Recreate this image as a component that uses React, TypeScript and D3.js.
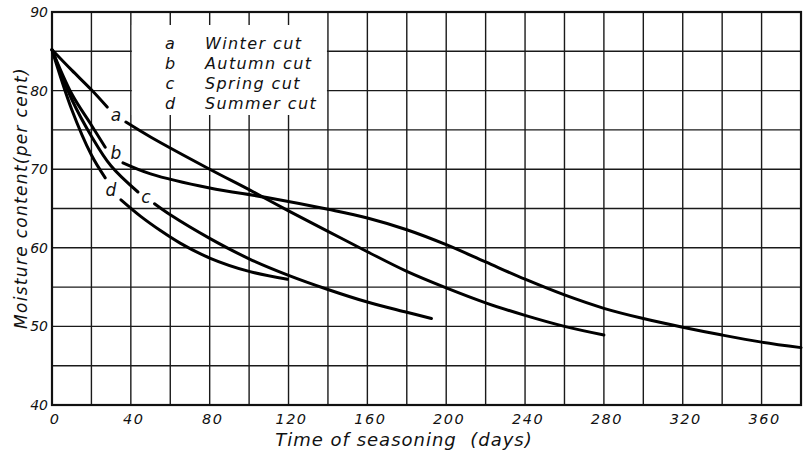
import React, { useEffect, useRef } from 'react';
import * as d3 from 'd3';

// curve keys and legend names
const keys = ['a', 'b', 'c', 'd'];
const names = ['Winter cut', 'Autumn cut', 'Spring cut', 'Summer cut'];

// [days, moisture %]; NaN marks the gap left for the letter label
const winter: [number, number][] = [
  [0, 85.2], [10, 82.6], [20, 80.1], [28, 77.9], [32, NaN],
  [37.5, 76.0], [50, 74.1], [80, 70.0], [100, 67.4], [120, 64.7], [140, 62.1],
  [160, 59.5], [180, 57.0], [200, 54.9], [220, 53.0], [240, 51.4], [260, 50.0], [280, 48.9],
];
const autumn: [number, number][] = [
  [0, 85.2], [10, 79.6], [20, 75.6], [27, 72.8], [31, NaN],
  [36, 70.8], [50, 69.4], [80, 67.6], [109, 66.4], [140, 64.9], [160, 63.8],
  [180, 62.3], [200, 60.4], [220, 58.2], [240, 56.0], [260, 54.0], [280, 52.3], [300, 51.0],
  [320, 49.9], [340, 48.9], [360, 48.0], [380, 47.3],
];
const spring: [number, number][] = [
  [0, 85.2], [10, 78.9], [20, 74.2], [30, 70.4], [43.6, 67.1], [48, NaN],
  [52, 65.6], [60, 64.2], [80, 61.2], [100, 58.6], [120, 56.5], [140, 54.7],
  [160, 53.1], [180, 51.8], [192.5, 51.0],
];
const summer: [number, number][] = [
  [0, 85.2], [10, 77.6], [20, 71.8], [27, 68.9], [31, NaN],
  [35, 66.1], [45, 64.0], [55, 62.2], [65, 60.6], [80, 58.7], [100, 57.0], [119.5, 56.0],
];
const series = [winter, autumn, spring, summer];

// where the letters sit on the curves
const labelDays = [32.4, 32.4, 47.6, 29.9];
const labelValues = [76.9, 72.1, 66.5, 67.4];

const xTicks = [0, 40, 80, 120, 160, 200, 240, 280, 320, 360];
const yTicks = [40, 50, 60, 70, 80, 90];

export default function App() {
  const ref = useRef<SVGSVGElement>(null);

  useEffect(() => {
    const width = 803;
    const height = 453;
    const font = '"DejaVu Sans", sans-serif';

    const x = d3.scaleLinear().domain([0, 380]).range([52, 801]);
    const y = d3.scaleLinear().domain([40, 90]).range([405, 12]);

    const svg = d3.select(ref.current)
      .attr('width', width)
      .attr('height', height)
      .attr('viewBox', [0, 0, width, height].join(' '));

    svg.selectAll('*').remove();
    svg.append('rect').attr('width', width).attr('height', height).attr('fill', '#fff');

    // grid
    const grid = svg.append('g').attr('stroke', '#1a1a1a').attr('stroke-width', 1.4);
    grid.selectAll('line.v')
      .data(d3.range(0, 381, 20))
      .join('line')
        .attr('x1', d => x(d)).attr('x2', d => x(d))
        .attr('y1', y(90)).attr('y2', y(40));
    grid.selectAll('line.h')
      .data(d3.range(40, 91, 5))
      .join('line')
        .attr('x1', x(0)).attr('x2', x(380))
        .attr('y1', d => y(d)).attr('y2', d => y(d));

    // white patch behind the key
    svg.append('rect')
      .attr('x', x(40) + 1).attr('y', 25)
      .attr('width', x(140) - x(40) - 2).attr('height', 90)
      .attr('fill', '#fff');

    // frame
    svg.append('rect')
      .attr('x', x(0)).attr('y', y(90))
      .attr('width', x(380) - x(0)).attr('height', y(40) - y(90))
      .attr('fill', 'none').attr('stroke', '#111').attr('stroke-width', 2.2);

    // curves
    const line = d3.line<[number, number]>()
      .defined(d => !isNaN(d[1]))
      .x(d => x(d[0]))
      .y(d => y(d[1]))
      .curve(d3.curveCatmullRom.alpha(0.5));

    svg.append('g')
      .selectAll('path')
      .data(series)
      .join('path')
        .attr('d', d => line(d))
        .attr('fill', 'none')
        .attr('stroke', '#000')
        .attr('stroke-width', 3)
        .attr('stroke-linecap', 'round');

    const text = svg.append('g')
      .attr('font-family', font)
      .attr('font-style', 'italic')
      .attr('fill', '#111');

    // letters on the curves
    text.selectAll('text.lab')
      .data(keys)
      .join('text')
        .attr('x', (d, i) => x(labelDays[i]))
        .attr('y', (d, i) => y(labelValues[i]))
        .attr('text-anchor', 'middle')
        .attr('dominant-baseline', 'central')
        .attr('font-size', 17)
        .text(d => d);

    // key
    const key = text.append('g').attr('font-size', 16);
    key.selectAll('text.k')
      .data(keys)
      .join('text')
        .attr('x', 170)
        .attr('y', (d, i) => 49 + i * 20)
        .attr('text-anchor', 'middle')
        .text(d => d);
    key.selectAll('text.n')
      .data(names)
      .join('text')
        .attr('x', 205)
        .attr('y', (d, i) => 49 + i * 20)
        .attr('letter-spacing', 1.4)
        .text(d => d);

    // tick labels
    text.selectAll('text.xt')
      .data(xTicks)
      .join('text')
        .attr('x', d => x(d) + 3)
        .attr('y', 424)
        .attr('text-anchor', 'middle')
        .attr('font-size', 14.5)
        .attr('letter-spacing', 1.5)
        .text(d => d);
    text.selectAll('text.yt')
      .data(yTicks)
      .join('text')
        .attr('x', 48)
        .attr('y', d => y(d))
        .attr('text-anchor', 'end')
        .attr('dominant-baseline', 'central')
        .attr('font-size', 14)
        .text(d => d);

    // axis titles
    text.append('text')
      .attr('x', 404)
      .attr('y', 446)
      .attr('text-anchor', 'middle')
      .attr('font-size', 18)
      .attr('letter-spacing', 1)
      .style('white-space', 'pre')
      .text('Time of seasoning  (days)');
    text.append('text')
      .attr('transform', `translate(27,${198}) rotate(-90)`)
      .attr('text-anchor', 'middle')
      .attr('font-size', 17)
      .attr('letter-spacing', 1.3)
      .text('Moisture content(per cent)');
  }, []);

  return <svg ref={ref} style={{ position: 'absolute', left: 0, top: 0, display: 'block' }} />;
}
